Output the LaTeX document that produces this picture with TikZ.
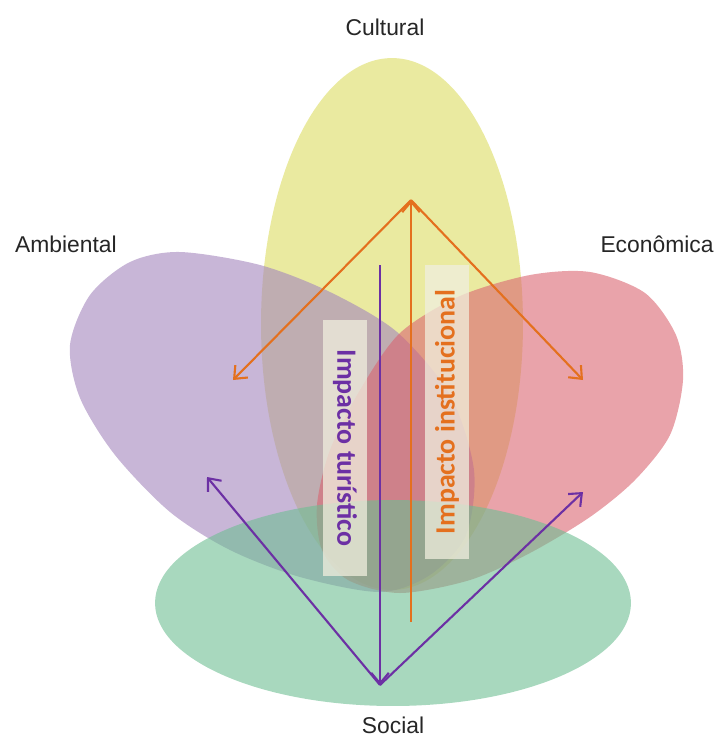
\documentclass[tikz,border=0pt]{standalone}
\usepackage{fontspec}
\setmainfont{Liberation Sans}
\newfontfamily\calfont{Carlito}
\usepackage{tikz}
\usetikzlibrary{arrows.meta}

\definecolor{culty}{RGB}{220,220,97}
\definecolor{ambp}{RGB}{163,133,188}
\definecolor{ecor}{RGB}{218,102,113}
\definecolor{socg}{RGB}{110,190,147}
\definecolor{instor}{RGB}{228,112,30}
\definecolor{turpu}{RGB}{108,48,164}
\definecolor{tagbg}{RGB}{240,238,222}

\tikzset{
  petal/.style={draw=none,fill opacity=0.6},
  dim/.style={anchor=base,font=\fontsize{13}{15}\selectfont,text=black!85},
  tag/.style={fill=tagbg,fill opacity=0.75,text opacity=1,inner sep=0pt,
    minimum height=0.88cm,font=\calfont\bfseries\fontsize{15.9}{18}\selectfont},
  imp/.style={line width=1.2pt,-{Straight Barb[length=6pt,width=10pt]}},
}

\begin{document}
\begin{tikzpicture}[x=0.02cm,y=-0.02cm]
    \useasboundingbox (0,0) rectangle (719,738);
    \coordinate (T) at (411,200);
    \coordinate (B) at (380,685);
    \coordinate (TA) at (233,380);
    \coordinate (TE) at (583,380);
    \coordinate (TI) at (411,622);
    \coordinate (BA) at (207,477);
    \coordinate (BE) at (583,492);
    \coordinate (BT) at (380,265);

    \fill[petal,fill=culty] (392,324) ellipse [x radius=2.62cm,y radius=5.32cm]; % cultural
    \fill[petal,fill=ambp] plot[smooth cycle] coordinates {(180,252) (260,265) (330,292) (397,332)
      (450,395) (474,470) (466,535) (430,575) (380,592) (300,577) (230,550) (170,512) (115,455)
      (80,398) (70,345) (90,295) (130,262)}; % ambiental
    \fill[petal,fill=ecor] plot[smooth cycle] coordinates {(530,275) (590,272) (645,293) (676,335)
      (683,380) (670,435) (635,480) (590,517) (530,553) (470,580) (400,593) (348,580) (322,550)
      (317,505) (330,450) (360,390) (400,333) (460,296)}; % economica
    \fill[petal,fill=socg] (393,603) ellipse [x radius=4.76cm,y radius=2.06cm]; % social

    \node[dim] (cultural) at (385,35) {Cultural};
    \node[dim] (ambiental) at (66,252) {Ambiental};
    \node[dim] (economica) at (657,252) {Econômica};
    \node[dim] (social) at (393,733) {Social};

    \node[tag,rotate=-90,minimum width=5.14cm,text=turpu] (tur) at (345,448) {Impacto turístico};
    \node[tag,rotate=90,minimum width=5.9cm,text=instor] (inst) at (447,412) {Impacto institucional};

    \draw[imp,instor] (TI) -- (T); % up
    \draw[imp,instor] (T) -- (TA);
    \draw[imp,instor] (T) -- (TE);
    \draw[imp,turpu] (BT) -- (B); % down
    \draw[imp,turpu] (B) -- (BA);
    \draw[imp,turpu] (B) -- (BE);
\end{tikzpicture}
\end{document}
